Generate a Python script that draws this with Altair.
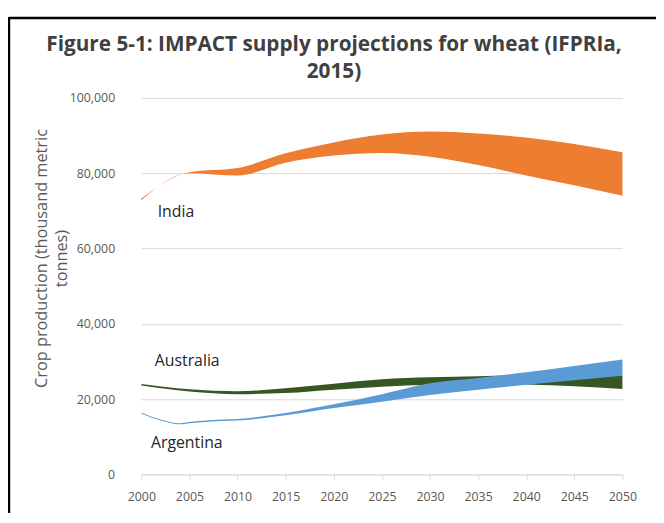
import altair as alt
import pandas as pd

# ---- data (production in thousand metric tonnes) ----
india_years = [2000, 2005, 2010, 2015, 2020, 2025, 2030, 2035, 2040, 2045, 2050]
india_low = [72800, 80000, 79400, 82800, 84700, 85400, 84400, 82200, 79400, 76800, 74000]
india_high = [73300, 80300, 81400, 85300, 88200, 90300, 91100, 90600, 89500, 87800, 85600]

australia_years = [2000, 2005, 2010, 2015, 2020, 2025, 2030, 2035, 2040, 2045, 2050]
australia_low = [23600, 22000, 21300, 21600, 22500, 23300, 23800, 24000, 23900, 23400, 22700]
australia_high = [24000, 22600, 22100, 22900, 24100, 25300, 25800, 26100, 26300, 26300, 26200]

argentina_years = [2000, 2002, 2004, 2005, 2007, 2010, 2015, 2020, 2025, 2030, 2035, 2040, 2045, 2050]
argentina_low = [16100, 14300, 13300, 13600, 14000, 14300, 15700, 17600, 19300, 21100, 22500, 23800, 25000, 26200]
argentina_high = [16400, 14600, 13600, 13900, 14400, 14700, 16300, 18600, 21300, 24200, 25600, 27100, 28800, 30500]

countries = ["India", "Australia", "Argentina"]
colors = ["#ED7D31", "#375623", "#5B9BD5"]

label_names = ["India", "Australia", "Argentina"]
label_years = [2001.7, 2001.4, 2001.0]
label_values = [69800, 30200, 8400]

title_line1 = "Figure 5-1: IMPACT supply projections for wheat (IFPRIa,"
title_line2 = "2015)"

x_ticks = list(range(2000, 2051, 5))
y_ticks = [0, 20000, 40000, 60000, 80000, 100000]

rows = []
for name, yrs, lo, hi in [
    ("India", india_years, india_low, india_high),
    ("Australia", australia_years, australia_low, australia_high),
    ("Argentina", argentina_years, argentina_low, argentina_high),
]:
    for y, a, b in zip(yrs, lo, hi):
        rows.append({"country": name, "year": y, "low": a, "high": b})
df = pd.DataFrame(rows)
labels = pd.DataFrame({"name": label_names, "year": label_years, "value": label_values})

FONT = "Open Sans"
GREY = "#595959"

xscale = alt.Scale(domain=[2000, 2050], nice=False, zero=False)
yscale = alt.Scale(domain=[0, 100000], nice=False)

x_axis = alt.Axis(values=x_ticks, format="d", title=None, grid=False, labelFlush=False,
                  domainColor="#d9d9d9", tickColor="#d9d9d9", tickSize=5,
                  labelFont=FONT, labelFontSize=12.5, labelColor=GREY, labelPadding=11)
y_axis = alt.Axis(values=y_ticks, format=",d", grid=True, gridColor="#d9d9d9",
                  domain=False, ticks=False, labelFont=FONT, labelFontSize=12.5,
                  labelColor=GREY, labelPadding=27, labelFlush=False,
                  title=["Crop production (thousand metric", "tonnes)"],
                  titleFont=FONT, titleFontSize=16.5, titleFontWeight="normal",
                  titleColor=GREY, titleLineHeight=20, titleBaseline="middle",
                  titleX=-101, titleY=162, titleAngle=270)

bands = []
for name, col in zip(countries, colors):
    bands.append(
        alt.Chart(df[df.country == name]).mark_area(interpolate="monotone", color=col, opacity=1)
        .encode(x=alt.X("year:Q", scale=xscale, axis=x_axis),
                y=alt.Y("low:Q", scale=yscale, axis=y_axis),
                y2="high:Q")
    )

text = alt.Chart(labels).mark_text(align="left", baseline="middle", font=FONT,
                                   fontSize=16, color="#262626").encode(
    x=alt.X("year:Q", scale=xscale), y=alt.Y("value:Q", scale=yscale), text="name:N")

def title_layer(line, ypix):
    return alt.Chart(alt.Data(values=[{"t": line}])).mark_text(
        align="center", baseline="middle", font=FONT, fontSize=21, fontWeight="bold",
        color="#404040").encode(x=alt.value(195), y=alt.value(ypix), text="t:N")

frame = alt.Data(values=[{"k": 1}])
top_line = alt.Chart(frame).mark_rule(color="black", strokeWidth=2.5).encode(
    x=alt.value(-134), x2=alt.value(530), y=alt.value(-81))
left_line = alt.Chart(frame).mark_rule(color="black", strokeWidth=2.5).encode(
    x=alt.value(-134), y=alt.value(-82), y2=alt.value(440))

chart = alt.layer(*bands, text, title_layer(title_line1, -54), title_layer(title_line2, -26),
                  top_line, left_line).properties(
    width=487, height=381,
    padding={"left": 135, "top": 88, "right": 34, "bottom": 36},
    autosize=alt.AutoSizeParams(type="none"),
).configure_view(stroke=None)

chart.save("out.html", embed_options={"renderer": "svg", "actions": False})
